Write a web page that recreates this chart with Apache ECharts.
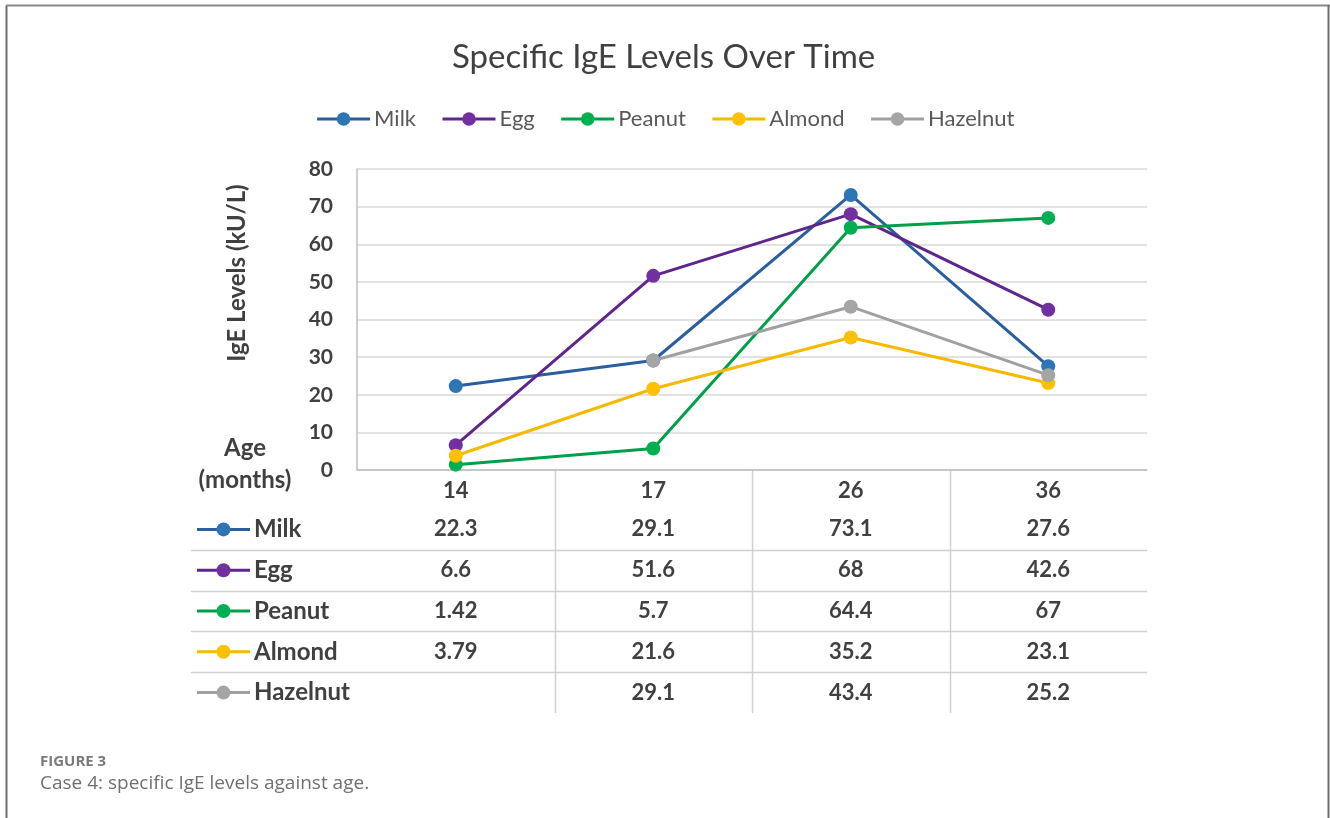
<!DOCTYPE html>
<html><head><meta charset="utf-8">
<script src="https://cdn.jsdelivr.net/npm/echarts@6/dist/echarts.min.js"></script>
<style>html,body{margin:0;padding:0;background:#fff}#c{width:1330px;height:818px}</style>
</head><body><div id="c"></div>
<script>
// ---- data ----
const ages = ['14', '17', '26', '36'];
const milk = [22.3, 29.1, 73.1, 27.6];
const egg = [6.6, 51.6, 68, 42.6];
const peanut = [1.42, 5.7, 64.4, 67];
const almond = [3.79, 21.6, 35.2, 23.1];
const hazelnut = [null, 29.1, 43.4, 25.2];
const seriesNames = ['Milk', 'Egg', 'Peanut', 'Almond', 'Hazelnut'];
const seriesValues = [milk, egg, peanut, almond, hazelnut];
const yMin = 0, yMax = 80, yStep = 10;

// ---- styles ----
const markerColors = ['#2E75B6', '#7030A0', '#00B050', '#FFC000', '#A5A5A5'];
const lineColors = ['#2A5E9E', '#5E268C', '#00A04A', '#F5BA00', '#A0A0A0'];
const FONT = 'Lato';
const TXT = '#404040';
const WORD = 24, NUM = 22;

const chart = echarts.init(document.getElementById('c'));

const series = seriesNames.map((n, i) => ({
  name: n,
  type: 'line',
  data: seriesValues[i],
  symbol: 'circle',
  symbolSize: 14,
  connectNulls: false,
  itemStyle: { color: markerColors[i] },
  lineStyle: { color: lineColors[i], width: 3 },
  emphasis: { disabled: true },
  z: 3
}));

chart.setOption({
  animation: false,
  backgroundColor: '#fff',
  title: {
    text: 'Specific IgE Levels Over Time',
    left: 447, top: 36,
    textStyle: { fontFamily: FONT, fontSize: 33, fontWeight: 'normal', color: '#404040' }
  },
  legend: {
    data: seriesNames,
    top: 103, left: 'center',
    itemWidth: 53, itemHeight: 17, itemGap: 25,
    lineStyle: { width: 3 },
    textStyle: { fontFamily: FONT, fontSize: 22, color: '#595959', padding: [0, 0, 0, -1] }
  },
  grid: { left: 357, right: 183, top: 169, bottom: 348, containLabel: false },
  xAxis: {
    type: 'category',
    data: ages,
    boundaryGap: true,
    axisLine: { lineStyle: { color: '#BFBFBF', width: 1.5 } },
    axisTick: { show: false },
    axisLabel: { margin: 10, fontFamily: FONT, fontSize: NUM, fontWeight: 'bold', color: TXT }
  },
  yAxis: {
    type: 'value',
    min: yMin, max: yMax, interval: yStep,
    axisLine: { show: true, lineStyle: { color: '#BFBFBF', width: 1.5 } },
    axisTick: { show: false },
    splitLine: { lineStyle: { color: '#D9D9D9', width: 1.5 } },
    axisLabel: { margin: 24, fontFamily: FONT, fontSize: 21, fontWeight: 'bold', color: TXT }
  },
  series: series
});

// ---- data table + annotations ----
const rowTop = 509, rowH = 40.8, tableLeft = 191, nRows = seriesNames.length;
const xs = ages.map(a => chart.convertToPixel({ xAxisIndex: 0 }, a));
const plotRight = xs[xs.length - 1] + (xs[1] - xs[0]) / 2;
const g = [];

// frame
g.push({ type: 'line', shape: { x1: 6.5, y1: 5.5, x2: 6.5, y2: 818 }, style: { stroke: '#6E6E6E', lineWidth: 2 } });
g.push({ type: 'line', shape: { x1: 6, y1: 5.5, x2: 1330, y2: 5.5 }, style: { stroke: '#8A8A8A', lineWidth: 2 } });
g.push({ type: 'line', shape: { x1: 1328.5, y1: 5, x2: 1328.5, y2: 818 }, style: { stroke: '#6E6E6E', lineWidth: 2 } });

// vertical dividers
for (let i = 0; i < xs.length - 1; i++) {
  const xm = Math.round((xs[i] + xs[i + 1]) / 2) + 0.5;
  g.push({ type: 'line', shape: { x1: xm, y1: 470, x2: xm, y2: rowTop + rowH * nRows }, style: { stroke: '#D0D0D0', lineWidth: 1.5 } });
}
// horizontal dividers
for (let r = 0; r < nRows - 1; r++) {
  const y = Math.round(rowTop + rowH * (r + 1)) + 0.5;
  g.push({ type: 'line', shape: { x1: tableLeft, y1: y, x2: plotRight, y2: y }, style: { stroke: '#D0D0D0', lineWidth: 1.5 } });
}
// rows
seriesNames.forEach((n, r) => {
  const yc = rowTop + rowH * (r + 0.5);
  g.push({ type: 'line', shape: { x1: 197, y1: yc, x2: 250, y2: yc }, style: { stroke: lineColors[r], lineWidth: 3 } });
  g.push({ type: 'circle', shape: { cx: 223.5, cy: yc, r: 7 }, style: { fill: markerColors[r] } });
  g.push({ type: 'text', x: 254, y: yc, style: { text: n, fontFamily: FONT, fontSize: WORD, fontWeight: 'bold', fill: TXT, verticalAlign: 'middle', textAlign: 'left' } });
  seriesValues[r].forEach((v, c) => {
    if (v === null) return;
    g.push({ type: 'text', x: xs[c], y: yc, style: { text: String(v), fontFamily: FONT, fontSize: NUM, fontWeight: 'bold', fill: TXT, verticalAlign: 'middle', textAlign: 'center' } });
  });
});

// Age (months)
g.push({ type: 'text', x: 245, y: 448, style: { text: 'Age', fontFamily: FONT, fontSize: WORD, fontWeight: 'bold', fill: TXT, verticalAlign: 'middle', textAlign: 'center' } });
g.push({ type: 'text', x: 245, y: 480, style: { text: '(months)', fontFamily: FONT, fontSize: WORD, fontWeight: 'bold', fill: TXT, verticalAlign: 'middle', textAlign: 'center' } });

// y axis title
g.push({ type: 'text', x: 237, y: 273, rotation: Math.PI / 2, style: { text: 'IgE Levels (kU/L)', fontFamily: FONT, fontSize: WORD, fontWeight: 'bold', fill: TXT, verticalAlign: 'middle', textAlign: 'center' } });

// caption
g.push({ type: 'text', x: 40, y: 762, style: { text: 'FIGURE 3', fontFamily: 'Open Sans', fontSize: 15, fontWeight: 'bold', fill: '#7A7A7A', verticalAlign: 'middle', textAlign: 'left' } });
g.push({ type: 'text', x: 40, y: 784, style: { text: 'Case 4: specific IgE levels against age.', fontFamily: 'Open Sans', fontSize: 19, fill: '#707070', verticalAlign: 'middle', textAlign: 'left' } });

chart.setOption({ graphic: g });
</script>
</body></html>
